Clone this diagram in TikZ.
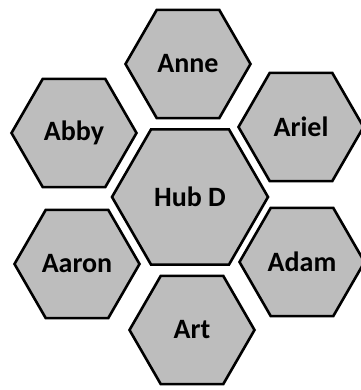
\documentclass[tikz,border=0pt]{standalone}
\usepackage{fontspec}
\setmainfont{Carlito}
\usetikzlibrary{shapes.geometric}
\tikzset{
  hexcell/.style={regular polygon, regular polygon sides=6, draw=black,
    line width=2.6pt, fill=black!26, inner sep=0pt, minimum size=125pt,
    font=\fontsize{28}{30}\selectfont\bfseries},
  hubcell/.style={hexcell, minimum size=156pt}
}
\begin{document}
\begin{tikzpicture}[x=1pt,y=1pt]
        \useasboundingbox (0,0) rectangle (360,-390);
        % hub in the middle
        \node[hubcell] (hub) at (190,-197) {Hub D};
        % the six around it
        \node[hexcell] (anne) at (188,-64) {Anne};
        \node[hexcell] (abby) at (74,-133) {Abby};
        \node[hexcell] (ariel) at (301,-127) {Ariel};
        \node[hexcell] (aaron) at (77,-264) {Aaron};
        \node[hexcell] (adam) at (302,-262) {Adam};
        \node[hexcell] (art) at (192,-330) {Art};
    \end{tikzpicture}
\end{document}
